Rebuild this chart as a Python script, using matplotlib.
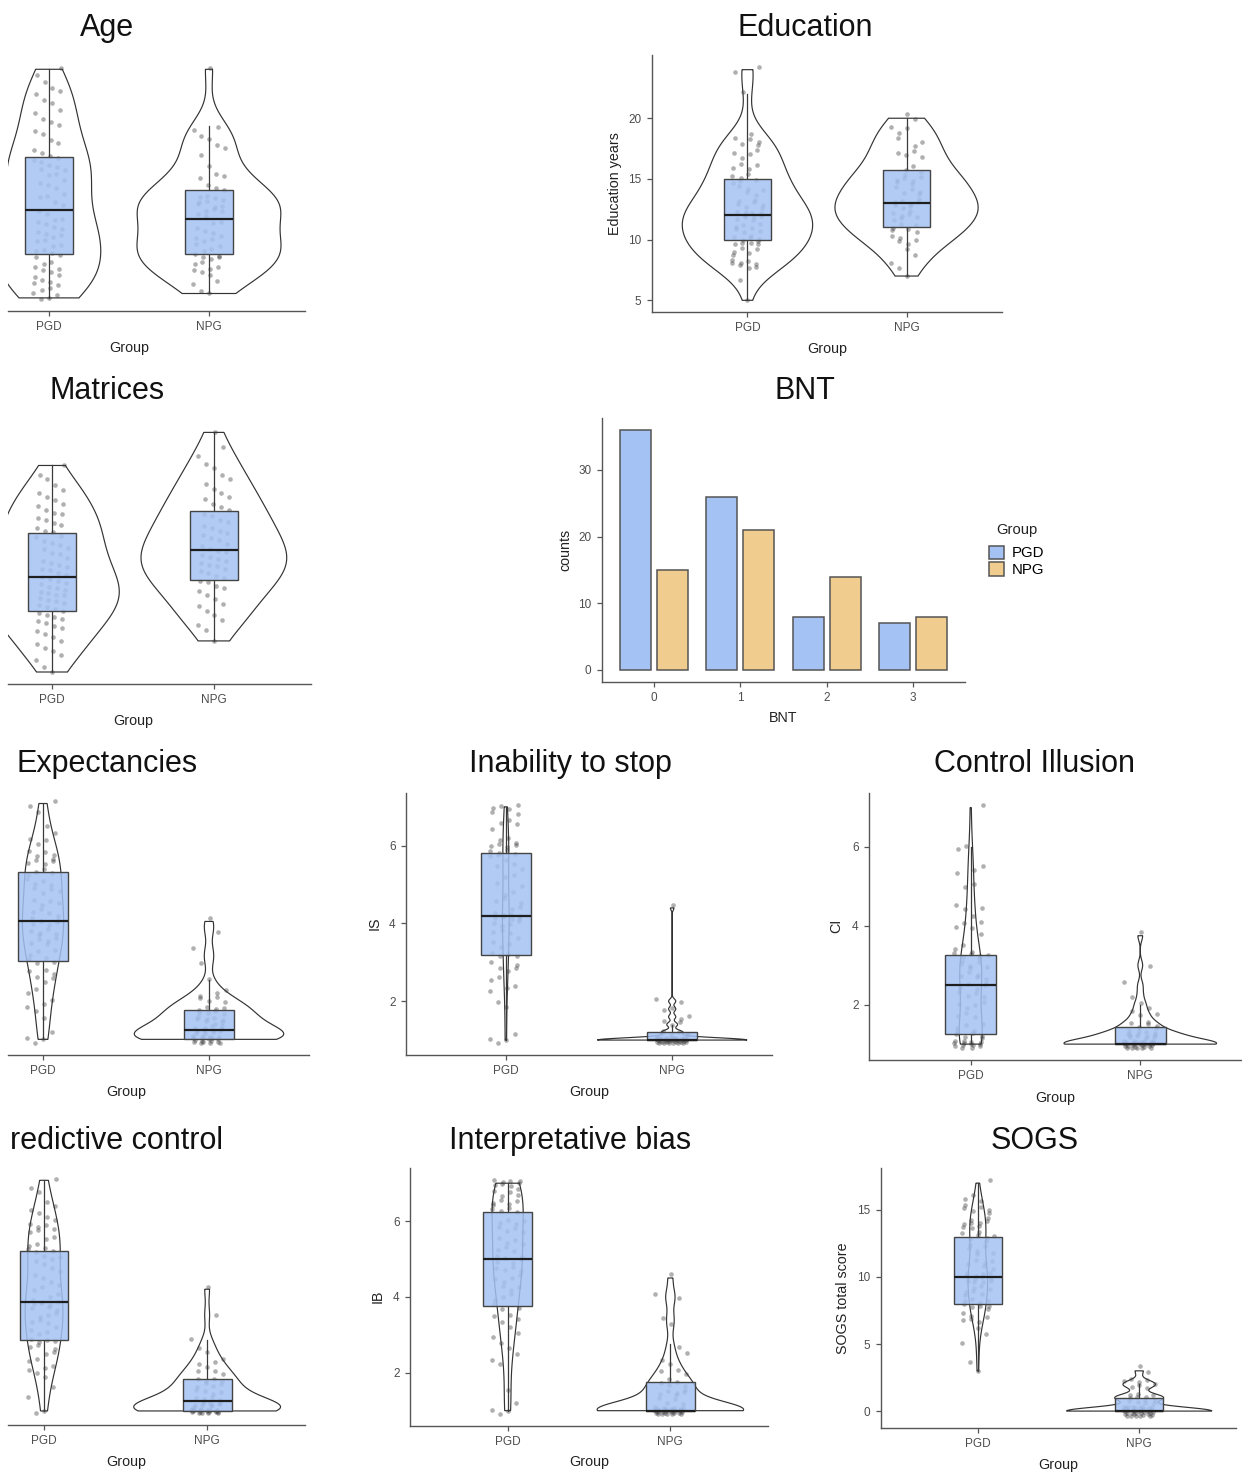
import numpy as np
import matplotlib
matplotlib.use("Agg")
import matplotlib.pyplot as plt
from matplotlib.patches import Rectangle, Patch

plt.rcParams["font.family"] = ["Liberation Sans", "DejaVu Sans"]

# ---------------------------------------------------------------- data
GROUPS = ["PGD", "NPG"]

AGE_PGD = [18, 18, 19, 19, 20, 20, 21, 21, 22, 22, 23, 23, 24, 24, 25, 25, 26, 26, 27, 28,
           28, 29, 29, 30, 30, 31, 31, 32, 32, 33, 33, 34, 34, 35, 35, 36, 36, 37, 38,
           39, 40, 41, 41, 42, 43, 44, 44, 45, 46, 46, 47, 47, 48, 48, 49, 49, 50, 50,
           51, 52, 53, 54, 55, 56, 57, 58, 59, 60, 61, 62, 63, 64, 65, 66, 67, 69, 70]
AGE_NPG = [19, 20, 21, 22, 23, 24, 24, 25, 25, 26, 26, 27, 27, 27, 28,
           28, 29, 29, 30, 30, 31, 31, 32, 32, 33, 33, 34, 35, 35,
           37, 37, 38, 38, 38, 39, 39, 39, 40, 40, 40, 41, 41, 41,
           43, 43, 44, 45, 46, 46, 48, 50, 52, 53, 54, 55, 56, 57, 70]

EDU_PGD_VALUES = [5, 7, 8, 9, 10, 11, 12, 13, 14, 15, 16, 17, 18, 19, 22, 24]
EDU_PGD_COUNTS = [1, 1, 8, 5, 10, 7, 10, 7, 5, 6, 4, 4, 5, 1, 1, 2]
EDU_NPG_VALUES = [7, 8, 9, 10, 11, 12, 13, 14, 15, 16, 17, 18, 19, 20]
EDU_NPG_COUNTS = [1, 2, 2, 5, 6, 7, 8, 5, 7, 3, 4, 3, 3, 2]

MAT_PGD = [5.0, 5.5, 6.2, 6.7, 7.1, 7.4, 7.8, 8.1, 8.5, 8.8, 9.1, 9.4, 9.6, 9.9,
           10.1, 10.3, 10.5, 10.7, 10.9, 11.1, 11.3, 11.5, 11.7, 11.9,
           12.1, 12.2, 12.4, 12.6, 12.7, 12.9, 13.0, 13.2, 13.4, 13.5, 13.7, 13.9,
           14.1, 14.3, 14.5, 14.7, 14.9, 15.1, 15.3, 15.5, 15.7, 15.9,
           16.1, 16.4, 16.7, 16.9, 17.2, 17.4, 17.7, 17.9, 18.1, 18.4, 18.6, 18.9,
           19.1, 19.4, 19.6, 19.9, 20.1, 20.4, 20.7, 20.9, 21.2, 21.5, 21.8,
           22.1, 22.5, 22.8, 23.2, 23.7, 24.2, 24.7, 25.6]
MAT_NPG = [8.1, 9.2, 9.7, 10.2, 10.7, 11.1, 11.5, 11.8, 12.3, 12.7,
           13.1, 13.4, 13.6, 13.9, 14.1, 14.4, 14.6, 14.9,
           15.1, 15.3, 15.5, 15.7, 15.9, 16.1, 16.3, 16.5, 16.7, 16.9,
           17.1, 17.3, 17.6, 17.8, 18.1, 18.4, 18.6, 18.9, 19.1, 19.4, 19.6, 19.9,
           20.2, 20.5, 20.8, 21.2, 21.5, 21.8, 22.2, 22.5, 22.8,
           23.3, 23.7, 24.2, 24.7, 25.3, 25.8, 26.5, 27.4, 28.9]

BNT_LEVELS = [0, 1, 2, 3]
BNT_PGD = [36, 26, 8, 7]
BNT_NPG = [15, 21, 14, 8]

GE_VALUES = [1.0, 1.25, 1.5, 1.75, 2.0, 2.25, 2.5, 2.75, 3.0, 3.25, 3.5, 3.75, 4.0,
             4.25, 4.5, 4.75, 5.0, 5.25, 5.5, 5.75, 6.0, 6.25, 6.5, 6.75, 7.0]
GE_PGD_COUNTS = [3, 1, 1, 2, 2, 2, 3, 3, 4, 3, 5, 5, 6, 4, 4, 4, 4, 4, 5, 4, 3, 1, 1, 1, 2]
GE_NPG_VALUES = [1.0, 1.25, 1.5, 1.75, 2.0, 2.25, 2.5, 3.0, 3.25, 3.75, 4.0]
GE_NPG_COUNTS = [18, 12, 8, 8, 5, 2, 1, 1, 1, 1, 1]

IS_PGD_VALUES = [1.0, 1.2, 1.8, 2.0, 2.2, 2.4, 2.6, 2.8, 3.0, 3.2, 3.4, 3.6, 3.8, 4.0, 4.2,
                 4.4, 4.6, 4.8, 5.0, 5.2, 5.4, 5.6, 5.8, 6.0, 6.2, 6.4, 6.6, 6.8, 7.0]
IS_PGD_COUNTS = [3, 1, 1, 1, 1, 2, 2, 3, 2, 4, 2, 2, 3, 4, 8, 2, 3, 2, 2, 2, 2, 2, 6, 5, 2, 1, 3, 2, 4]
IS_NPG_VALUES = [1.0, 1.2, 1.4, 1.6, 1.8, 2.0, 4.4]
IS_NPG_COUNTS = [42, 6, 3, 2, 2, 2, 1]

CI_PGD_VALUES = [1.0, 1.25, 1.5, 1.75, 2.0, 2.25, 2.5, 2.75, 3.0, 3.25, 3.5, 3.75, 4.0,
                 4.25, 4.5, 5.0, 5.25, 5.5, 6.0, 7.0]
CI_PGD_COUNTS = [14, 7, 3, 3, 4, 4, 5, 5, 6, 7, 2, 1, 4, 1, 3, 2, 1, 2, 2, 1]
CI_NPG_VALUES = [1.0, 1.25, 1.5, 1.75, 2.0, 2.25, 2.5, 3.0, 3.75]
CI_NPG_COUNTS = [30, 13, 6, 3, 2, 1, 1, 1, 1]

# predictive control: summed totals over 6 items
PC_ITEMS = 6
PC_PGD_TOTALS = [6, 8, 10, 11, 12, 13, 14, 15, 16, 17, 18, 19, 20, 21, 22, 23, 24, 25, 26, 27,
                 28, 29, 30, 31, 32, 33, 34, 35, 36, 37, 38, 39, 40, 41, 42]
PC_PGD_COUNTS = [2, 1, 1, 1, 2, 2, 2, 2, 3, 4, 2, 2, 3, 3, 3, 6, 2, 2, 2, 2,
                 2, 2, 3, 4, 2, 2, 3, 3, 2, 2, 1, 1, 1, 1, 1]
PC_NPG_TOTALS = [6, 7, 8, 9, 10, 11, 12, 13, 14, 15, 16, 17, 21, 25]
PC_NPG_COUNTS = [20, 9, 5, 4, 4, 4, 3, 2, 2, 1, 1, 1, 1, 1]

IB_PGD_VALUES = [1.0, 1.25, 1.5, 2.25, 2.5, 2.75, 3.0, 3.25, 3.5, 3.75, 4.0, 4.25, 4.5,
                 4.75, 5.0, 5.25, 5.5, 5.75, 6.0, 6.25, 6.5, 6.75, 7.0]
IB_PGD_COUNTS = [3, 1, 1, 2, 1, 2, 2, 2, 3, 3, 3, 3, 4, 4, 6, 3, 4, 4, 4, 4, 5, 5, 8]
IB_NPG_VALUES = [1.0, 1.25, 1.5, 1.75, 2.0, 2.25, 2.5, 2.75, 3.25, 3.5, 4.0, 4.5]
IB_NPG_COUNTS = [31, 4, 6, 5, 3, 2, 1, 1, 1, 1, 2, 1]

SOGS_PGD_VALUES = [3, 4, 5, 6, 7, 8, 9, 10, 11, 12, 13, 14, 15, 16, 17]
SOGS_PGD_COUNTS = [1, 1, 1, 2, 6, 9, 7, 12, 6, 6, 7, 9, 6, 3, 1]
SOGS_NPG_VALUES = [0, 1, 2, 3]
SOGS_NPG_COUNTS = [36, 12, 8, 2]

# ---------------------------------------------------------------- style
W, H = 1242, 1475
BOX_FILL = "#a4c2f4"
NPG_FILL = "#f0cd8e"
LINE = "#555555"
TICK_TXT = "#4d4d4d"

fig = plt.figure(figsize=(W / 100, H / 100), dpi=100)


def expand(values, counts):
    return np.repeat(np.asarray(values, dtype=float), counts)


def px_axes(left, top, right, bottom):
    return fig.add_axes([left / W, 1 - bottom / H, (right - left) / W, (bottom - top) / H])


def bw_nrd0(x):
    hi = np.std(x, ddof=1)
    q1, q3 = np.percentile(x, [25, 75])
    lo = min(hi, (q3 - q1) / 1.34)
    if lo <= 0:
        lo = hi if hi > 0 else 1.0
    return 0.9 * lo * len(x) ** (-0.2)


def kde(x):
    grid = np.linspace(x.min(), x.max(), 512)
    bw = bw_nrd0(x)
    k = np.exp(-0.5 * ((grid[:, None] - x[None, :]) / bw) ** 2).sum(1)
    return grid, k / (len(x) * bw * np.sqrt(2 * np.pi))


def resolution(x):
    u = np.unique(np.round(x, 6))
    if np.allclose(u, np.round(u)):
        return 1.0
    return np.diff(u).min()


def style_axes(ax, show_y):
    for s in ("top", "right"):
        ax.spines[s].set_visible(False)
    ax.spines["bottom"].set_color(LINE)
    ax.spines["left"].set_color(LINE)
    ax.spines["bottom"].set_linewidth(1.0)
    ax.spines["left"].set_linewidth(1.0)
    ax.spines["left"].set_visible(show_y)
    ax.tick_params(axis="both", length=3.5, width=0.9, color=LINE, labelsize=8.5,
                   labelcolor=TICK_TXT, pad=4)
    if not show_y:
        ax.set_yticks([])
    ax.set_facecolor("none")


def violin_panel(rect, pgd, npg, xlim_left=0.4, yticks=None):
    ax = px_axes(*rect)
    data = [np.sort(np.asarray(pgd, float)), np.sort(np.asarray(npg, float))]
    dens = [kde(d) for d in data]
    mx = max(k.max() for _, k in dens)
    res = resolution(np.concatenate(data))
    lo_all, hi_all = [], []
    for pos, d, (g, k) in zip([1, 2], data, dens):
        w = k / mx * 0.45
        xs = np.concatenate([pos - w, (pos + w)[::-1]])
        ys = np.concatenate([g, g[::-1]])
        ax.fill(xs, ys, facecolor="white", edgecolor="#333333", lw=0.85, zorder=1)
        i = np.arange(len(d))
        dx = (np.mod(0.5 + i * 0.7548776662, 1) - 0.5) * 0.2
        dy = (np.mod(0.5 + i * 0.5698402910, 1) - 0.5) * 0.8 * res
        ys_pts = d + dy
        ax.scatter(pos + dx, ys_pts, s=11, color="#3a3a3a", alpha=0.4, lw=0, zorder=2)
        lo_all += [d.min(), ys_pts.min()]
        hi_all += [d.max(), ys_pts.max()]
        q1, med, q3 = np.percentile(d, [25, 50, 75])
        iqr = q3 - q1
        w_lo = d[d >= q1 - 1.5 * iqr].min()
        w_hi = d[d <= q3 + 1.5 * iqr].max()
        ax.plot([pos, pos], [q3, w_hi], color="#3a3a3a", lw=0.9, zorder=3)
        ax.plot([pos, pos], [w_lo, q1], color="#3a3a3a", lw=0.9, zorder=3)
        ax.add_patch(Rectangle((pos - 0.15, q1), 0.3, q3 - q1, facecolor=BOX_FILL,
                               alpha=0.85, edgecolor="none", zorder=4))
        ax.add_patch(Rectangle((pos - 0.15, q1), 0.3, q3 - q1, fill=False,
                               edgecolor="#444444", lw=1.0, zorder=5))
        ax.plot([pos - 0.15, pos + 0.15], [med, med], color="#1e1e1e", lw=1.6,
                zorder=6, solid_capstyle="butt")
    lo, hi = min(lo_all), max(hi_all)
    pad = 0.05 * (hi - lo)
    ax.set_ylim(lo - pad, hi + pad)
    ax.set_xlim(xlim_left, 2.6)
    ax.set_xticks([1, 2])
    ax.set_xticklabels(GROUPS)
    style_axes(ax, yticks is not None)
    if yticks is not None:
        ax.set_yticks(yticks)
    return ax


def label(x, y, s, size=10.3, rot=0, color="#222222", ha="center"):
    fig.text(x / W, 1 - y / H, s, ha=ha, va="center", fontsize=size,
             rotation=rot, color=color)


def title(x, y, s, ha="center"):
    fig.text(x / W, 1 - (y + 3) / H, s, ha=ha, va="center", fontsize=22, color="#111111")


# ---------------------------------------------------------------- row 1
violin_panel((8, 56, 305, 311), AGE_PGD, AGE_NPG, xlim_left=1 - 41 / 160)
title(107, 25, "Age")
label(129, 348, "Group")

violin_panel((652, 55, 1002, 312),
             expand(EDU_PGD_VALUES, EDU_PGD_COUNTS),
             expand(EDU_NPG_VALUES, EDU_NPG_COUNTS), yticks=[5, 10, 15, 20])
title(805, 25, "Education")
label(827, 349, "Group")
label(615, 184, "Education years", rot=90)

# ---------------------------------------------------------------- row 2
violin_panel((8, 420, 311, 684), MAT_PGD, MAT_NPG, xlim_left=1 - 44 / 162)
title(107, 388, "Matrices")
label(133, 721, "Group")

ax = px_axes(602, 418, 965, 682)
x = np.asarray(BNT_LEVELS, float)
ax.bar(x - 0.215, BNT_PGD, width=0.36, color=BOX_FILL, edgecolor=LINE, lw=1.1, zorder=2)
ax.bar(x + 0.215, BNT_NPG, width=0.36, color=NPG_FILL, edgecolor=LINE, lw=1.1, zorder=2)
top = max(max(BNT_PGD), max(BNT_NPG))
ax.set_ylim(-0.05 * top, 1.05 * top)
ax.set_xlim(-0.6, 3.6)
ax.set_xticks(BNT_LEVELS)
ax.set_yticks([0, 10, 20, 30])
style_axes(ax, True)
title(805, 388, "BNT")
label(783, 718, "BNT")
label(565, 550, "counts", rot=90)
handles = [Patch(facecolor=BOX_FILL, edgecolor=LINE, lw=1.1),
           Patch(facecolor=NPG_FILL, edgecolor=LINE, lw=1.1)]
fig.legend(handles, GROUPS, loc="upper left",
           bbox_to_anchor=(979 / W, 1 - 535 / H), frameon=False,
           fontsize=10.8, handlelength=0.95, handleheight=1.0,
           handletextpad=0.55, labelspacing=0.12, borderpad=0.2)
label(996, 530, "Group", size=10.6, ha="left")

# ---------------------------------------------------------------- row 3
violin_panel((8, 789, 308.6, 1055),
             expand(GE_VALUES, GE_PGD_COUNTS),
             expand(GE_NPG_VALUES, GE_NPG_COUNTS), xlim_left=1 - 35 / 166)
title(107, 761, "Expectancies")
label(126, 1092, "Group")

violin_panel((406, 793, 772, 1055),
             expand(IS_PGD_VALUES, IS_PGD_COUNTS),
             expand(IS_NPG_VALUES, IS_NPG_COUNTS), yticks=[2, 4, 6])
title(570, 761, "Inability to stop")
label(589, 1092, "Group")
label(375, 923, "IS", rot=90)

violin_panel((869, 793, 1242, 1060),
             expand(CI_PGD_VALUES, CI_PGD_COUNTS),
             expand(CI_NPG_VALUES, CI_NPG_COUNTS), yticks=[2, 4, 6])
title(1035, 761, "Control Illusion")
label(1055, 1098, "Group")
label(836, 926, "CI", rot=90)

# ---------------------------------------------------------------- row 4
violin_panel((8, 1167, 305, 1425),
             expand(PC_PGD_TOTALS, PC_PGD_COUNTS) / PC_ITEMS,
             expand(PC_NPG_TOTALS, PC_NPG_COUNTS) / PC_ITEMS, xlim_left=1 - 36 / 163)
title(10, 1138, "redictive control", ha="left")
label(126, 1462, "Group")

violin_panel((410, 1168, 768, 1426),
             expand(IB_PGD_VALUES, IB_PGD_COUNTS),
             expand(IB_NPG_VALUES, IB_NPG_COUNTS), yticks=[2, 4, 6])
title(570, 1138, "Interpretative bias")
label(589, 1462, "Group")
label(378, 1296, "IB", rot=90)

violin_panel((881, 1168, 1236, 1428),
             expand(SOGS_PGD_VALUES, SOGS_PGD_COUNTS),
             expand(SOGS_NPG_VALUES, SOGS_NPG_COUNTS), yticks=[0, 5, 10, 15])
title(1035, 1138, "SOGS")
label(1058, 1465, "Group")
label(843, 1298, "SOGS total score", rot=90)

fig.savefig("out.png", dpi=100, facecolor="white")
